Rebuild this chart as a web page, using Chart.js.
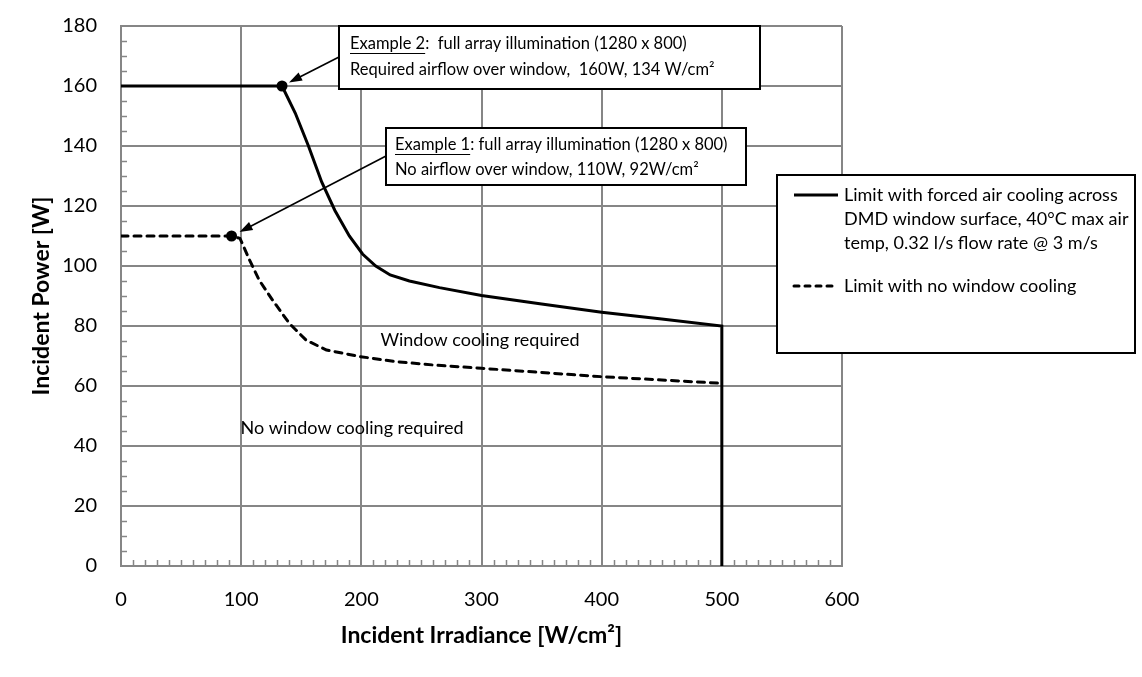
<!DOCTYPE html>
<html>
<head>
<meta charset="utf-8">
<title>DMD window cooling limits</title>
<script src="https://cdn.jsdelivr.net/npm/chart.js"></script>
<style>
  body { margin: 0; background: #fff; }
  #wrap { width: 1142px; height: 677px; }
</style>
</head>
<body>
<div id="wrap"><canvas id="limitChart" width="1142" height="677"></canvas></div>
<script>
// Incident power limit vs. irradiance

// forced air cooling across the window
const irradianceForced = [0, 134, 145, 156, 167, 178, 190, 201, 212, 224, 240, 265, 300, 350, 400, 450, 500, 500];
const powerForced      = [160, 160, 151, 140, 128, 118.5, 110, 104, 100, 97, 95, 92.8, 90.2, 87.3, 84.6, 82.3, 80, 0];

// no window cooling
const irradianceNoCool = [0, 92, 99, 107, 115, 126, 140, 154, 171, 199, 229, 260, 300, 350, 400, 450, 500];
const powerNoCool      = [110, 110, 109.2, 102, 95.3, 88.7, 80.9, 75.3, 72, 69.8, 68.1, 67, 65.9, 64.5, 63.1, 62, 60.9];

const seriesLabels = [
    'Limit with forced air cooling across DMD window surface, 40°C max air temp, 0.32 l/s flow rate @ 3 m/s',
    'Limit with no window cooling'
];

// the two worked examples sit on these points
const forcedMarkerIndex = 1;
const noCoolMarkerIndex = 1;

const xTickValues = [0, 100, 200, 300, 400, 500, 600];
const yTickValues = [0, 20, 40, 60, 80, 100, 120, 140, 160, 180];

const example2Lines = ['Example 2', ':  full array illumination (1280 x 800)', 'Required airflow over window,  160W, 134 W/cm²'];
const example1Lines = ['Example 1', ': full array illumination (1280 x 800)', 'No airflow over window, 110W, 92W/cm²'];
const regionLabels = ['Window cooling required', 'No window cooling required'];

const FONT = 'Lato, "Open Sans", sans-serif';
const GRID = '#868686';

function toPoints(xs, ys) {
    return xs.map(function(x, i) { return { x: x, y: ys[i] }; });
}

function markerRadius(index) {
    return function(ctx) { return ctx.dataIndex === index ? 5.5 : 0; };
}

function drawArrow(ctx, fromX, fromY, toX, toY) {
    const ang = Math.atan2(toY - fromY, toX - fromX);
    const head = 13;
    ctx.save();
    ctx.strokeStyle = '#000';
    ctx.fillStyle = '#000';
    ctx.lineWidth = 1.6;
    ctx.beginPath();
    ctx.moveTo(fromX, fromY);
    ctx.lineTo(toX - Math.cos(ang) * head * 0.8, toY - Math.sin(ang) * head * 0.8);
    ctx.stroke();
    ctx.beginPath();
    ctx.moveTo(toX, toY);
    ctx.lineTo(toX - head * Math.cos(ang) + 4.5 * Math.sin(ang), toY - head * Math.sin(ang) - 4.5 * Math.cos(ang));
    ctx.lineTo(toX - head * Math.cos(ang) - 4.5 * Math.sin(ang), toY - head * Math.sin(ang) + 4.5 * Math.cos(ang));
    ctx.closePath();
    ctx.fill();
    ctx.restore();
}

function drawBox(ctx, x, y, w, h) {
    ctx.save();
    ctx.fillStyle = '#fff';
    ctx.fillRect(x, y, w, h);
    ctx.strokeStyle = '#000';
    ctx.lineWidth = 2;
    ctx.strokeRect(x, y, w, h);
    ctx.restore();
}

function drawExample(ctx, lines, x, y, lineGap) {
    ctx.save();
    ctx.font = '16.5px ' + FONT;
    ctx.fillStyle = '#000';
    ctx.textBaseline = 'middle';
    ctx.fillText(lines[0], x, y);
    const w = ctx.measureText(lines[0]).width;
    ctx.fillRect(x, y + 9, w, 1);
    ctx.fillText(lines[1], x + w, y);
    ctx.fillText(lines[2], x, y + lineGap);
    ctx.restore();
}

function wrapText(ctx, text, maxWidth) {
    const words = text.split(' ');
    const out = [];
    let line = '';
    words.forEach(function(word) {
        const test = line ? line + ' ' + word : word;
        if (ctx.measureText(test).width > maxWidth && line) {
            out.push(line);
            line = word;
        } else {
            line = test;
        }
    });
    if (line) out.push(line);
    return out;
}

// minor ticks inside the plot, Excel style
const minorTicks = {
    id: 'minorTicks',
    beforeDatasetsDraw(chart) {
        const { ctx, scales: { x, y }, chartArea } = chart;
        ctx.save();
        ctx.strokeStyle = GRID;
        ctx.lineWidth = 1.5;
        ctx.beginPath();
        for (let v = 10; v < x.max; v += 10) {
            if (v % 100 === 0) continue;
            const px = Math.round(x.getPixelForValue(v)) + 0.5;
            ctx.moveTo(px, chartArea.bottom);
            ctx.lineTo(px, chartArea.bottom - 6);
        }
        for (let v = 5; v < y.max; v += 5) {
            if (v % 20 === 0) continue;
            const py = Math.round(y.getPixelForValue(v)) + 0.5;
            ctx.moveTo(chartArea.left, py);
            ctx.lineTo(chartArea.left + 6, py);
        }
        ctx.stroke();
        ctx.restore();
    }
};

// callout boxes, arrows, region notes and the boxed legend
const annotations = {
    id: 'annotations',
    afterDatasetsDraw(chart) {
        const { ctx, scales: { x, y } } = chart;

        ctx.save();
        ctx.font = '18px ' + FONT;
        ctx.fillStyle = '#000';
        ctx.textBaseline = 'middle';
        ctx.textAlign = 'center';
        ctx.fillText(regionLabels[0], 480, 340);
        ctx.fillText(regionLabels[1], 352, 428);
        ctx.restore();

        // example 2 callout
        drawBox(ctx, 339, 26, 421, 63);
        drawExample(ctx, example2Lines, 350, 44, 26);
        const d2x = x.getPixelForValue(irradianceForced[forcedMarkerIndex]);
        const d2y = y.getPixelForValue(powerForced[forcedMarkerIndex]);
        drawArrow(ctx, 339, 57, d2x + 7, d2y - 3.5);

        // example 1 callout
        drawBox(ctx, 386, 128, 360, 57);
        drawExample(ctx, example1Lines, 395, 145, 25);
        const d1x = x.getPixelForValue(irradianceNoCool[noCoolMarkerIndex]);
        const d1y = y.getPixelForValue(powerNoCool[noCoolMarkerIndex]);
        drawArrow(ctx, 386, 156, d1x + 8, d1y - 4);

        // legend
        drawBox(ctx, 777, 175, 358, 178);
        const datasets = chart.data.datasets;
        ctx.save();
        ctx.font = '18px ' + FONT;
        ctx.fillStyle = '#000';
        ctx.textBaseline = 'middle';
        let rowY = 195;
        datasets.forEach(function(ds) {
            ctx.save();
            ctx.strokeStyle = '#000';
            ctx.lineWidth = 3;
            ctx.lineCap = ds.borderDash ? 'round' : 'butt';
            ctx.setLineDash(ds.borderDash ? [5, 6] : []);
            ctx.beginPath();
            ctx.moveTo(794, rowY);
            ctx.lineTo(838, rowY);
            ctx.stroke();
            ctx.restore();
            const lines = wrapText(ctx, ds.label, 286);
            lines.forEach(function(line, i) {
                ctx.fillText(line, 844, rowY + i * 24);
            });
            rowY += lines.length * 24 + 19;
        });
        ctx.restore();
    }
};

const ctx = document.getElementById('limitChart').getContext('2d');

const limitChart = new Chart(ctx, {
    type: 'scatter',
    data: {
        datasets: [{
            label: seriesLabels[0],
            data: toPoints(irradianceForced, powerForced),
            showLine: true,
            borderColor: '#000',
            backgroundColor: '#000',
            borderWidth: 3,
            tension: 0,
            pointRadius: markerRadius(forcedMarkerIndex),
            pointHoverRadius: markerRadius(forcedMarkerIndex),
            pointBorderWidth: 0
        }, {
            label: seriesLabels[1],
            data: toPoints(irradianceNoCool, powerNoCool),
            showLine: true,
            borderColor: '#000',
            backgroundColor: '#000',
            borderWidth: 3,
            borderDash: [7, 6],
            borderCapStyle: 'round',
            tension: 0,
            pointRadius: markerRadius(noCoolMarkerIndex),
            pointHoverRadius: markerRadius(noCoolMarkerIndex),
            pointBorderWidth: 0
        }]
    },
    options: {
        responsive: false,
        animation: false,
        devicePixelRatio: 1,
        layout: {
            padding: { top: 26, right: 300, left: 0, bottom: 0 }
        },
        scales: {
            x: {
                type: 'linear',
                min: xTickValues[0],
                max: xTickValues[xTickValues.length - 1],
                afterBuildTicks: function(scale) {
                    scale.ticks = xTickValues.map(function(v) { return { value: v }; });
                },
                afterFit: function(scale) { scale.height = 111; },
                grid: { color: GRID, lineWidth: 2, drawTicks: false },
                border: { color: GRID, width: 2 },
                ticks: {
                    padding: 22,
                    color: '#000',
                    font: { family: FONT, size: 20 }
                },
                title: {
                    display: true,
                    text: 'Incident Irradiance [W/cm²]',
                    color: '#000',
                    font: { family: FONT, size: 23, weight: 'bold' },
                    padding: { bottom: 28 }
                }
            },
            y: {
                type: 'linear',
                min: yTickValues[0],
                max: yTickValues[yTickValues.length - 1],
                afterBuildTicks: function(scale) {
                    scale.ticks = yTickValues.map(function(v) { return { value: v }; });
                },
                afterFit: function(scale) {
                    scale.width = 121;
                    scale.paddingTop = 0;
                    scale.paddingBottom = 0;
                },
                grid: { color: GRID, lineWidth: 2, drawTicks: false },
                border: { color: GRID, width: 2 },
                ticks: {
                    padding: 24,
                    color: '#000',
                    font: { family: FONT, size: 20 }
                },
                title: {
                    display: true,
                    text: 'Incident Power [W]',
                    color: '#000',
                    font: { family: FONT, size: 23, weight: 'bold' },
                    padding: { top: 28 }
                }
            }
        },
        plugins: {
            legend: { display: false },
            tooltip: { enabled: false }
        }
    },
    plugins: [minorTicks, annotations]
});
</script>
</body>
</html>
